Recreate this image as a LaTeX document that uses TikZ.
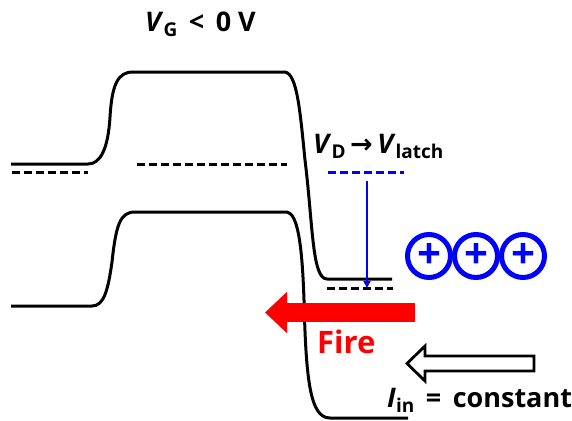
\documentclass[tikz,border=0pt]{standalone}
\usepackage{fontspec}
\setmainfont{Open Sans}
\newfontfamily\arrowfont{DejaVu Sans}
\usetikzlibrary{arrows.meta}
\definecolor{holeblue}{HTML}{0000FF}
\definecolor{firered}{HTML}{FF0000}
\newcommand{\lowsub}[1]{\raisebox{-5pt}{\fontsize{19}{19}\selectfont #1}}
\tikzset{
  band/.style={line width=3pt, line join=round},
  fermi/.style={line width=3pt, dash pattern=on 8pt off 4pt},
  latchlevel/.style={fermi, draw=holeblue},
  latcharrow/.style={-{Triangle[length=7pt,width=7pt]}, line width=2.2pt, draw=holeblue},
  firearrow/.style={-{Triangle[length=22pt 0,width=40pt 0]}, line width=19pt, draw=firered},
  inarrow/.style={line width=2.8pt, fill=white, line join=miter},
  hole/.style={circle, draw=holeblue, line width=5pt, minimum size=43pt, inner sep=0pt,
               text=holeblue, font=\fontsize{42}{42}\selectfont\bfseries},
  lbl/.style={font=\fontsize{27}{30}\selectfont\bfseries, anchor=base west, inner sep=0pt},
  firelbl/.style={lbl, font=\fontsize{31}{33}\selectfont\bfseries, text=firered},
}

\begin{document}
\begin{tikzpicture}[x=1pt, y=-1pt]
  \useasboundingbox (0,0) rectangle (572,420);

  % Conduction band
  \draw[band] (11,164) -- (88,164)
    .. controls (100,164) and (108,150) .. (110,117)
    .. controls (112,84) and (118,72) .. (133,72) -- (285,72)
    .. controls (297,74) and (300,110) .. (305,160)
    .. controls (313,225) and (312,279) .. (327,279) -- (392,279);

  % Valence band
  \draw[band] (11,306) -- (92,306)
    .. controls (104,306) and (108,290) .. (112,262)
    .. controls (116,225) and (120,212) .. (135,212) -- (287,212)
    .. controls (297,214) and (302,240) .. (304,300)
    .. controls (306,380) and (310,418) .. (330,418) -- (408,418);

  % Fermi levels
  \draw[fermi] (12,172) -- (88,172);
  \draw[fermi] (137,164) -- (287,164);
  \draw[fermi] (327,288) -- (393,288);
  \draw[latchlevel] (328,172) -- (404,172);

  % Drain level drops to latch
  \coordinate (latchtop) at (367,181);
  \coordinate (latchbot) at (367,288);
  \draw[latcharrow] (latchtop) -- (latchbot);

  % Holes
  \node[hole] (h1) at (429,256) {+};
  \node[hole] (h2) at (476,256) {+};
  \node[hole] (h3) at (523,256) {+};

  % Fire and input current
  \coordinate (firestart) at (415,312.5);
  \coordinate (fireend) at (265,312.5);
  \draw[firearrow] (firestart) -- (fireend);
  \draw[inarrow] (534,356) -- (425,356) -- (425,346) -- (407,363.5)
    -- (425,381) -- (425,371) -- (534,371) -- cycle;

  % Labels
  \node[lbl] (vg) at (145,32) {\textit{V}\lowsub{G} \,<\, 0 V};
  \node[lbl] (vd) at (313,153) {\textit{V}\lowsub{D}\,{\arrowfont →}\,\textit{V}\lowsub{latch}};
  \node[firelbl] (fire) at (317,353) {Fire};
  \node[lbl] (iin) at (387,407) {\textit{I}\lowsub{in} \,=\, constant};
\end{tikzpicture}
\end{document}
